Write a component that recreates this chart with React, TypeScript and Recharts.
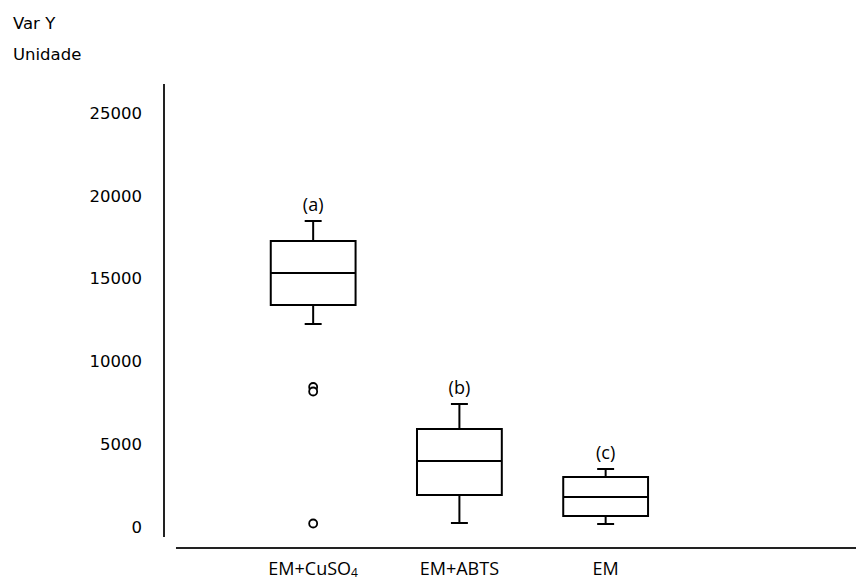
import React from 'react';
import {
  ScatterChart,
  Scatter,
  XAxis,
  YAxis,
  ReferenceArea,
  ReferenceLine,
  ReferenceDot,
} from 'recharts';

// groups on the x axis
const categories = ['EM+CuSO4', 'EM+ABTS', 'EM'];
const groupLetters = ['(a)', '(b)', '(c)'];

// five-number summaries per group
const whiskerLow = [12258, 242, 181];
const q1 = [13406, 1932, 664];
const medians = [15338, 3986, 1812];
const q3 = [17271, 5918, 3019];
const whiskerHigh = [18478, 7428, 3502];

// points outside the whiskers (group index, value)
const outlierGroups = [0, 0, 0];
const outlierValues = [8454, 8182, 211];

const yTicks = [0, 5000, 10000, 15000, 20000, 25000];

const X_DOMAIN: [number, number] = [-0.02, 4.712];
const Y_DOMAIN: [number, number] = [-1268, 26751];
const BOX_HALF = 0.29;
const CAP_HALF = 0.058;
const INK = '#000';

const outlierPoints = outlierValues.map((v, i) => ({ x: outlierGroups[i] + 1, y: v }));

const CategoryTick = (props: any) => {
  const { x, y, payload } = props;
  const name = categories[payload.value - 1] ?? '';
  const m = name.match(/^(.*SO)(\d)$/);
  return (
    <text
      x={x}
      y={y + 27}
      textAnchor="middle"
      fill={INK}
      fontFamily="'Open Sans', sans-serif"
      fontSize={18}
    >
      {m ? (
        <>
          {m[1]}
          <tspan fontSize={12} dy={2}>
            {m[2]}
          </tspan>
        </>
      ) : (
        name
      )}
    </text>
  );
};

const OutlierDot = (props: any) => {
  const { cx, cy } = props;
  return <circle cx={cx} cy={cy} r={4} fill="#fff" stroke={INK} strokeWidth={1.8} />;
};

const titleStyle: React.CSSProperties = {
  position: 'absolute',
  left: 13,
  fontFamily: "'DejaVu Sans', sans-serif",
  fontSize: 16.5,
  color: '#000',
  lineHeight: '19px',
  whiteSpace: 'nowrap',
};

export default function App() {
  return (
    <div style={{ position: 'absolute', left: 0, top: 0, width: 856, height: 581, background: '#fff' }}>
      <div style={{ ...titleStyle, top: 14 }}>Var Y</div>
      <div style={{ ...titleStyle, top: 45 }}>Unidade</div>
      <ScatterChart width={856} height={581} margin={{ top: 84, right: 0, bottom: 0, left: 0 }}>
        <XAxis
          type="number"
          dataKey="x"
          domain={X_DOMAIN}
          ticks={[1, 2, 3]}
          axisLine={false}
          tickLine={false}
          tickSize={0}
          tickMargin={0}
          height={33}
          tick={<CategoryTick />}
          allowDataOverflow
        />
        <YAxis
          type="number"
          dataKey="y"
          domain={Y_DOMAIN}
          ticks={yTicks}
          axisLine={false}
          tickLine={false}
          tickSize={0}
          tickMargin={22}
          width={164}
          interval={0}
          allowDataOverflow
          tick={{ fill: '#000', fontSize: 16.5, fontFamily: "'DejaVu Sans', sans-serif" }}
        />

        {/* axis lines drawn separately so they don't meet at the corner */}
        <ReferenceLine
          segment={[{ x: X_DOMAIN[0], y: -604 }, { x: X_DOMAIN[0], y: Y_DOMAIN[1] }]}
          stroke="#222"
          strokeWidth={2}
          ifOverflow="visible"
        />
        <ReferenceLine
          segment={[{ x: 0.062, y: Y_DOMAIN[0] }, { x: X_DOMAIN[1], y: Y_DOMAIN[0] }]}
          stroke="#222"
          strokeWidth={2}
          ifOverflow="visible"
        />

        {categories.map((_, i) => {
          const c = i + 1;
          return (
            <React.Fragment key={`box-${i}`}>
              <ReferenceLine
                segment={[{ x: c, y: q3[i] }, { x: c, y: whiskerHigh[i] }]}
                stroke={INK}
                strokeWidth={2}
              />
              <ReferenceLine
                segment={[{ x: c, y: whiskerLow[i] }, { x: c, y: q1[i] }]}
                stroke={INK}
                strokeWidth={2}
              />
              <ReferenceLine
                segment={[{ x: c - CAP_HALF, y: whiskerHigh[i] }, { x: c + CAP_HALF, y: whiskerHigh[i] }]}
                stroke={INK}
                strokeWidth={2}
              />
              <ReferenceLine
                segment={[{ x: c - CAP_HALF, y: whiskerLow[i] }, { x: c + CAP_HALF, y: whiskerLow[i] }]}
                stroke={INK}
                strokeWidth={2}
              />
              <ReferenceArea
                x1={c - BOX_HALF}
                x2={c + BOX_HALF}
                y1={q1[i]}
                y2={q3[i]}
                fill="#fff"
                fillOpacity={1}
                stroke={INK}
                strokeWidth={2}
              />
              <ReferenceLine
                segment={[{ x: c - BOX_HALF, y: medians[i] }, { x: c + BOX_HALF, y: medians[i] }]}
                stroke={INK}
                strokeWidth={2}
              />
              <ReferenceDot
                x={c}
                y={whiskerHigh[i]}
                r={0}
                stroke="none"
                label={{
                  value: groupLetters[i],
                  position: 'top',
                  offset: 10,
                  fill: INK,
                  fontSize: 18,
                  fontFamily: "'Open Sans', sans-serif",
                }}
              />
            </React.Fragment>
          );
        })}

        <Scatter data={outlierPoints} dataKey="y" shape={<OutlierDot />} isAnimationActive={false} />
      </ScatterChart>
    </div>
  );
}
